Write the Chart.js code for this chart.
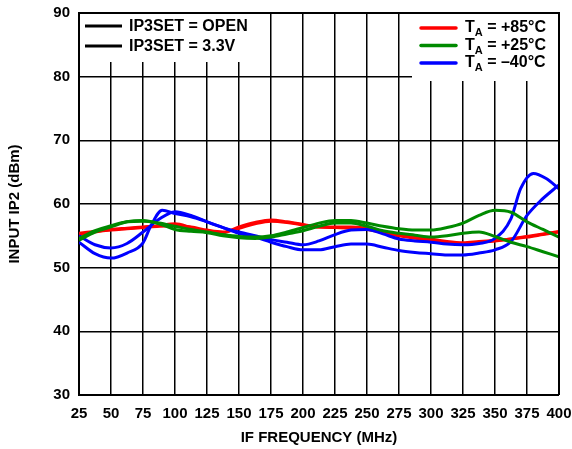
<!DOCTYPE html>
<html>
<head>
<meta charset="utf-8">
<script src="https://cdn.jsdelivr.net/npm/chart.js@4.4.0/dist/chart.umd.min.js"></script>
<style>
  html, body { margin: 0; padding: 0; background: #fff; }
  #wrap { width: 572px; height: 449px; }
</style>
</head>
<body>
<div id="wrap"><canvas id="ip2Chart" width="572" height="449"></canvas></div>
<script>
// IF frequency points (MHz) shared by the red and green traces
const freqs = [25, 37.5, 50, 62.5, 75, 87.5, 100, 112.5, 125, 137.5, 150, 162.5, 175, 187.5, 200,
    212.5, 225, 237.5, 250, 262.5, 275, 287.5, 300, 312.5, 325, 337.5, 350, 362.5, 375, 387.5, 400];

// T = +85°C
const red85a = [55.4, 55.7, 56.0, 56.2, 56.4, 56.6, 56.9, 56.3, 55.6, 55.5, 56.4, 57.1, 57.5, 57.2, 56.8,
    56.4, 56.4, 56.4, 56.2, 55.7, 55.1, 54.8, 54.5, 54.1, 53.9, 54.1, 54.3, 54.5, 54.8, 55.2, 55.6];
const red85b = [55.2, 55.6, 55.9, 56.1, 56.3, 56.5, 56.6, 56.4, 55.9, 55.6, 56.2, 56.9, 57.3, 57.1, 56.7,
    56.4, 56.3, 56.2, 56.0, 55.5, 55.0, 54.6, 54.3, 54.0, 53.8, 54.0, 54.2, 54.5, 54.9, 55.3, 55.7];

// T = +25°C
const green25a = [54.6, 55.8, 56.6, 57.2, 57.3, 57.0, 56.5, 56.0, 55.6, 55.2, 54.9, 54.8, 55.0, 55.6, 56.3,
    57.0, 57.4, 57.4, 57.0, 56.5, 56.1, 55.9, 55.9, 56.3, 57.0, 58.2, 59.0, 58.7, 57.2, 56.0, 54.8];
const green25b = [54.3, 55.6, 56.4, 57.2, 57.4, 56.9, 56.0, 55.7, 55.5, 55.0, 54.7, 54.6, 54.8, 55.3, 55.8,
    56.5, 57.0, 57.0, 56.5, 55.8, 55.4, 55.1, 54.8, 55.0, 55.4, 55.6, 54.9, 54.0, 53.3, 52.5, 51.7];

// T = -40°C (these have their own frequency points around the peaks)
const blueFreqsA = [25, 37.5, 50, 62.5, 75, 81, 90, 100, 112.5, 125, 137.5, 150, 162.5, 175, 187.5, 200,
    212.5, 225, 237.5, 250, 262.5, 275, 287.5, 300, 312.5, 325, 337.5, 350, 362.5, 370, 380, 390, 400];
const blue40a = [54.0, 52.2, 51.5, 52.3, 53.9, 56.5, 59.0, 58.5, 58.0, 57.2, 56.3, 55.6, 55.0, 54.4, 54.0, 53.6,
    54.2, 55.2, 55.9, 56.0, 55.3, 54.5, 54.2, 54.0, 53.7, 53.6, 53.8, 54.6, 57.7, 62.4, 64.8, 64.0, 62.4];
const blueFreqsB = [25, 37.5, 50, 62.5, 75, 87.5, 100, 112.5, 125, 137.5, 150, 162.5, 175, 187.5, 200,
    212.5, 225, 237.5, 250, 262.5, 275, 287.5, 300, 312.5, 325, 337.5, 350, 362.5, 375, 385, 400];
const blue40b = [55.0, 53.6, 53.1, 53.8, 55.6, 57.6, 58.8, 58.2, 57.2, 56.3, 55.4, 54.8, 54.0, 53.3, 52.8,
    52.8, 53.3, 53.7, 53.7, 53.2, 52.7, 52.4, 52.2, 52.0, 52.0, 52.3, 52.8, 54.1, 58.2, 60.4, 63.0];

const setLabels = ['IP3SET = OPEN', 'IP3SET = 3.3V'];
const tempLabels = ['= +85°C', '= +25°C', '= \u201340°C'];

const RED = '#ff0000';
const GREEN = '#008a00';
const BLUE = '#0000ff';
const FONT = '"Liberation Sans", Arial, Helvetica, sans-serif';

function toPoints(xs, ys) {
    return ys.map((y, i) => ({ x: xs[i], y: y }));
}

function trace(xs, ys, color) {
    return {
        data: toPoints(xs, ys),
        borderColor: color,
        borderWidth: 3,
        pointRadius: 0,
        fill: false,
        cubicInterpolationMode: 'monotone'
    };
}

// white boxes behind the two legends, then the legend text on top
const insetLegends = {
    id: 'insetLegends',
    beforeDatasetsDraw(chart) {
        const ctx = chart.ctx;
        const a = chart.chartArea;
        ctx.save();
        ctx.fillStyle = '#fff';
        ctx.fillRect(a.left + 1, a.top + 1, 185, 48);
        ctx.fillRect(412, a.top + 1, a.right - 1 - 412, 67);
        ctx.restore();
    },
    afterDatasetsDraw(chart) {
        const ctx = chart.ctx;
        ctx.save();
        ctx.textBaseline = 'middle';
        ctx.textAlign = 'left';
        ctx.lineCap = 'butt';

        // left: IP3SET legend
        const leftRows = [26, 46];
        leftRows.forEach((y, i) => {
            ctx.strokeStyle = '#000';
            ctx.lineWidth = 3;
            ctx.beginPath();
            ctx.moveTo(85, y);
            ctx.lineTo(122, y);
            ctx.stroke();
            ctx.fillStyle = '#000';
            ctx.font = 'bold 16px ' + FONT;
            ctx.fillText(setLabels[i], 129, y + 1);
        });

        // right: temperature legend with subscript A
        const rightRows = [28, 45.5, 63];
        const colors = [RED, GREEN, BLUE];
        rightRows.forEach((y, i) => {
            ctx.strokeStyle = colors[i];
            ctx.lineWidth = 3.5;
            ctx.lineCap = 'round';
            ctx.beginPath();
            ctx.moveTo(421, y);
            ctx.lineTo(456, y);
            ctx.stroke();
            ctx.fillStyle = '#000';
            ctx.font = 'bold 16px ' + FONT;
            ctx.fillText('T', 465, y);
            const tw = ctx.measureText('T').width;
            ctx.font = 'bold 11px ' + FONT;
            ctx.fillText('A', 465 + tw, y + 5);
            const aw = ctx.measureText('A').width;
            ctx.font = 'bold 16px ' + FONT;
            ctx.fillText(' ' + tempLabels[i], 465 + tw + aw, y);
        });
        ctx.restore();
    }
};

const edgeWidth = (ctx) => (ctx.index === 0 ? 0 : 1.5);

new Chart(document.getElementById('ip2Chart'), {
    type: 'line',
    data: {
        datasets: [
            trace(freqs, green25b, GREEN),
            trace(freqs, green25a, GREEN),
            trace(blueFreqsB, blue40b, BLUE),
            trace(blueFreqsA, blue40a, BLUE),
            trace(freqs, red85b, RED),
            trace(freqs, red85a, RED)
        ]
    },
    options: {
        responsive: false,
        animation: false,
        layout: { padding: { top: 13, right: 13, left: 0, bottom: 0 } },
        plugins: {
            legend: { display: false },
            tooltip: { enabled: false }
        },
        scales: {
            x: {
                type: 'linear',
                min: 25,
                max: 400,
                afterFit(scale) {
                    scale.height = 54;
                    scale.paddingLeft = 0;
                    scale.paddingRight = 0;
                },
                ticks: {
                    stepSize: 25,
                    autoSkip: false,
                    maxRotation: 0,
                    padding: 10,
                    color: '#000',
                    font: { family: FONT, size: 15, weight: 'bold' }
                },
                grid: { color: '#000', lineWidth: edgeWidth, drawTicks: false },
                border: { display: true, color: '#000', width: 2 },
                title: {
                    display: true,
                    text: 'IF FREQUENCY (MHz)',
                    color: '#000',
                    padding: { top: 0, bottom: 2 },
                    font: { family: FONT, size: 15, weight: 'bold' }
                }
            },
            y: {
                min: 30,
                max: 90,
                afterFit(scale) {
                    scale.width = 79;
                    scale.paddingTop = 0;
                    scale.paddingBottom = 0;
                },
                ticks: {
                    stepSize: 10,
                    padding: 9,
                    color: '#000',
                    font: { family: FONT, size: 15, weight: 'bold' }
                },
                grid: { color: '#000', lineWidth: edgeWidth, drawTicks: false },
                border: { display: true, color: '#000', width: 2 },
                title: {
                    display: true,
                    text: 'INPUT IP2 (dBm)',
                    color: '#000',
                    padding: { top: 6, bottom: 0 },
                    font: { family: FONT, size: 15, weight: 'bold' }
                }
            }
        }
    },
    plugins: [insetLegends, {
        id: 'frame',
        afterDraw(chart) {
            // heavier top and right edges of the plot frame
            const ctx = chart.ctx;
            const a = chart.chartArea;
            ctx.save();
            ctx.strokeStyle = '#000';
            ctx.lineWidth = 2;
            ctx.beginPath();
            ctx.moveTo(a.left, a.top);
            ctx.lineTo(a.right, a.top);
            ctx.lineTo(a.right, a.bottom);
            ctx.stroke();
            ctx.restore();
        }
    }]
});
</script>
</body>
</html>
